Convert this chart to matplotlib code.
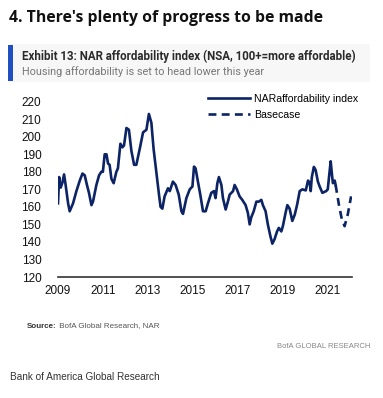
import matplotlib
matplotlib.use("Agg")
import matplotlib.pyplot as plt
from matplotlib.patches import Rectangle
from matplotlib.lines import Line2D

# ---- data (decimal years, index values) ----
hist_years = [2009.00, 2009.05, 2009.12, 2009.20, 2009.27, 2009.34, 2009.45, 2009.52, 2009.67, 2009.82,
              2009.97, 2010.09, 2010.19, 2010.29, 2010.38, 2010.49, 2010.56, 2010.71, 2010.83, 2010.93,
              2011.00, 2011.08, 2011.16, 2011.23, 2011.30, 2011.38, 2011.48, 2011.60, 2011.67, 2011.78,
              2011.87, 2011.94, 2012.05, 2012.16, 2012.27, 2012.39, 2012.49, 2012.64, 2012.79, 2012.94,
              2013.05, 2013.16, 2013.26, 2013.38, 2013.50, 2013.57, 2013.65, 2013.75, 2013.90, 2013.98,
              2014.12, 2014.24, 2014.38, 2014.50, 2014.57, 2014.72, 2014.87, 2014.99, 2015.06, 2015.13,
              2015.24, 2015.34, 2015.46, 2015.58, 2015.68, 2015.83, 2015.95, 2016.02, 2016.10, 2016.17,
              2016.28, 2016.35, 2016.47, 2016.57, 2016.65, 2016.80, 2016.87, 2016.97, 2017.09, 2017.21,
              2017.36, 2017.46, 2017.54, 2017.61, 2017.72, 2017.84, 2017.95, 2018.06, 2018.13, 2018.25,
              2018.35, 2018.46, 2018.55, 2018.65, 2018.76, 2018.84, 2018.95, 2019.02, 2019.14, 2019.22,
              2019.32, 2019.44, 2019.55, 2019.65, 2019.77, 2019.89, 2020.04, 2020.14, 2020.21, 2020.26,
              2020.31, 2020.40, 2020.48, 2020.58, 2020.66, 2020.78, 2020.95, 2021.02, 2021.10, 2021.15,
              2021.21, 2021.25, 2021.33, 2021.37]
hist_values = [162, 177, 171, 174, 178.5, 172.5, 162, 157.5, 162, 169,
               175, 179, 178, 172.5, 168, 161, 163, 172.5, 178, 180,
               180, 190, 190, 184.7, 184, 176, 173.5, 180, 182, 196,
               194, 195, 205, 204, 192, 184, 184, 193, 202.5, 204,
               213, 208, 193, 180, 167, 160, 159, 166, 170.6, 169,
               174.4, 172.5, 167, 157.5, 156, 165, 170, 171.6, 183, 182,
               174, 167, 157.5, 157.5, 162, 168, 169, 165, 173.5, 177,
               172.5, 165, 158.5, 163, 167, 169, 172.5, 170, 166, 164,
               161, 156.6, 150, 154, 157.5, 163, 163, 164, 161, 157.5,
               150, 143.5, 139, 141.6, 146, 148, 146, 149, 156.6, 161,
               159, 152, 155.6, 161, 169, 170, 169.4, 175, 174, 169,
               177, 182.8, 181, 174.4, 171.6, 168, 169, 170, 180, 186,
               178, 173.5, 175, 172.5]
base_years = [2021.37, 2021.52, 2021.63, 2021.77, 2021.91, 2022.06]
base_values = [172.5, 161, 154, 149, 155.6, 166]
yticks = [120, 130, 140, 150, 160, 170, 180, 190, 200, 210, 220]
xticks = [2009, 2011, 2013, 2015, 2017, 2019, 2021]

W, H = 383, 398
fig = plt.figure(figsize=(W / 100, H / 100), dpi=100)
fig.patch.set_facecolor("white")

def fx(px):
    return px / W

def fy(py):
    return 1 - py / H

navy = "#0c2466"

# title
fig.text(fx(9), fy(18), "4. There's plenty of progress to be made", fontsize=11.3,
         fontweight="bold", family="Open Sans", color="#111111", va="center", ha="left")

# exhibit header box
fig.patches.append(Rectangle((fx(8), fy(82)), fx(362), 38 / H, transform=fig.transFigure,
                             facecolor="#f7f7f7", edgecolor="none", zorder=0))
fig.patches.append(Rectangle((fx(8), fy(81)), fx(5), 36 / H, transform=fig.transFigure,
                             facecolor="#1f4fc0", edgecolor="none", zorder=1))
fig.text(fx(22), fy(56), "Exhibit 13: NAR affordability index (NSA, 100+=more affordable)",
         fontsize=8.3, fontweight="bold", family="Roboto", color="#2a2a2a", va="center",
         ha="left")
fig.text(fx(22), fy(72), "Housing affordability is set to head lower this year",
         fontsize=7.8, family="Roboto", color="#777777", va="center", ha="left")

# axes
ax = fig.add_axes([fx(58), fy(277), fx(352 - 58), (277 - 101.7) / H])
ax.plot(hist_years, hist_values, color=navy, lw=1.9, solid_joinstyle="round")
ax.plot(base_years, base_values, color=navy, lw=1.9, ls=(0, (3, 2)))
ax.set_xlim(2009, 2022.1)
ax.set_ylim(120, 220)
ax.set_yticks(yticks)
ax.set_xticks(xticks)
ax.set_xticklabels([str(t) for t in xticks])
for s in ["top", "right", "left"]:
    ax.spines[s].set_visible(False)
ax.spines["bottom"].set_color("#333333")
ax.spines["bottom"].set_linewidth(1.2)
ax.tick_params(length=0, labelsize=8.5, colors="#111111")
ax.tick_params(axis="y", pad=12)
ax.tick_params(axis="x", pad=6)
for lab in ax.get_xticklabels() + ax.get_yticklabels():
    lab.set_family("Liberation Sans")
ax.set_facecolor("none")

handles = [Line2D([], [], color=navy, lw=1.9),
           Line2D([], [], color=navy, lw=1.9, ls=(0, (3, 2)))]
leg = ax.legend(handles, ["NARaffordability index", "Basecase"], loc="upper left",
                bbox_to_anchor=((208 - 58) / 294, 1.045), frameon=False,
                prop={"family": "Liberation Sans", "size": 7.6}, handlelength=4.0,
                handletextpad=0.35, labelspacing=0.6, borderaxespad=0, borderpad=0)

# source lines
src = fig.text(fx(27), fy(326), "Source:", fontsize=5.8, fontweight="bold",
               family="Liberation Sans", color="#333333", va="center", ha="left")
fig.text(1.0, 0.5, " BofA Global Research, NAR", fontsize=5.8, transform=None,
         family="Liberation Sans", color="#555555", va="center", ha="left")
fig.texts.pop()
from matplotlib.text import Annotation
ann = fig.add_artist(Annotation(" BofA Global Research, NAR", xy=(1.0, 0.5), xycoords=src,
                                fontsize=5.8, family="Liberation Sans", color="#555555",
                                va="center", ha="left"))
fig.text(fx(370), fy(347), "BofA GLOBAL RESEARCH", fontsize=5.5, family="Liberation Sans",
         color="#888888", va="center", ha="right")
fig.text(fx(10), fy(377), "Bank of America Global Research", fontsize=7.2,
         family="Liberation Sans", color="#333333", va="center", ha="left")

fig.savefig("out.png", dpi=100)
